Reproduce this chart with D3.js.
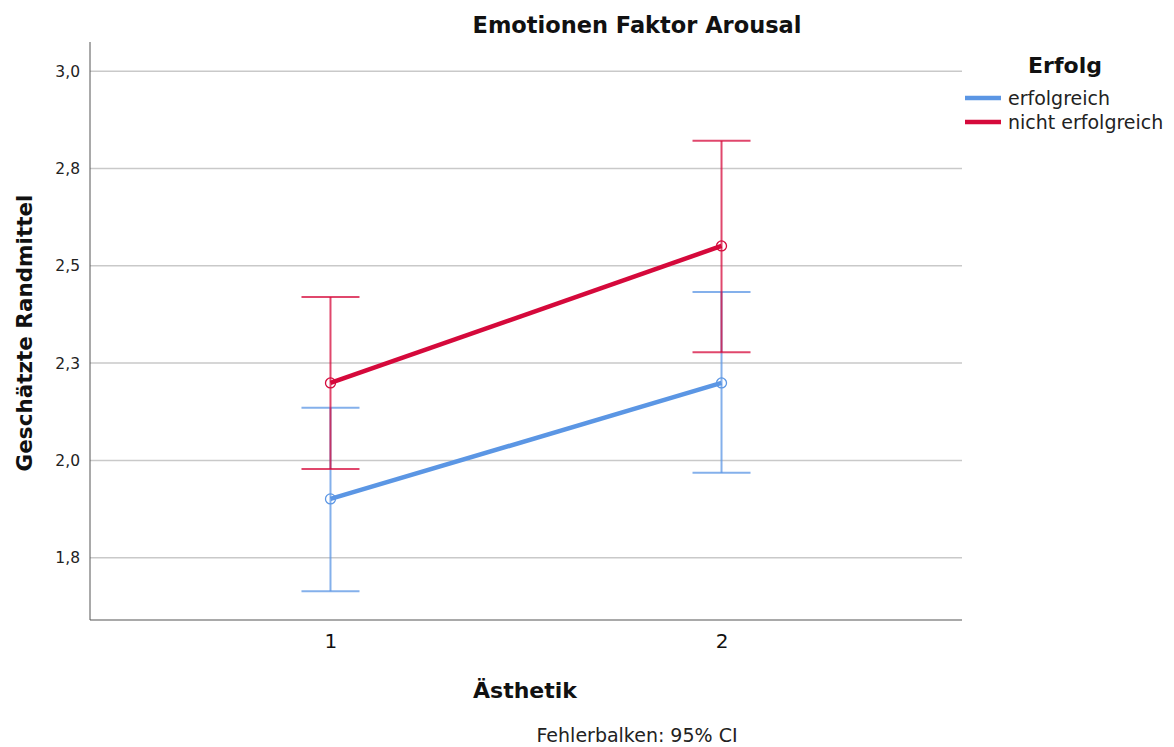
<!DOCTYPE html>
<html>
<head>
<meta charset="utf-8">
<script src="https://cdn.jsdelivr.net/npm/d3@7"></script>
<style>
  html, body { margin: 0; padding: 0; background: #fff; }
  svg { display: block; font-family: "DejaVu Sans", sans-serif; }
</style>
</head>
<body>
<svg id="chart" width="1174" height="747"></svg>
<script>
// Ästhetik levels on the x axis
const levels = ["1", "2"];

// Groups of the factor "Erfolg"
const groups = ["erfolgreich", "nicht erfolgreich"];
const groupColors = ["#5b96e4", "#d5093b"];

// Estimated marginal means per group and level
const meanErfolgreich = [1.901, 2.199];
const meanNichtErfolgreich = [2.199, 2.551];

// 95% confidence intervals (lower, upper)
const ciLowErfolgreich = [1.664, 1.968];
const ciHighErfolgreich = [2.135, 2.433];
const ciLowNichtErfolgreich = [1.978, 2.278];
const ciHighNichtErfolgreich = [2.420, 2.821];

// Y axis ticks and their displayed labels
const yTickValues = [1.75, 2.0, 2.25, 2.5, 2.75, 3.0];
const yTickLabels = ["1,8", "2,0", "2,3", "2,5", "2,8", "3,0"];

const series = [
  { name: groups[0], color: groupColors[0], mean: meanErfolgreich, lo: ciLowErfolgreich, hi: ciHighErfolgreich },
  { name: groups[1], color: groupColors[1], mean: meanNichtErfolgreich, lo: ciLowNichtErfolgreich, hi: ciHighNichtErfolgreich }
];

const svg = d3.select("#chart");
const plot = { left: 90, right: 962, top: 42, bottom: 620 };

const x = d3.scalePoint().domain(levels).range([plot.left, plot.right]).padding(0.615);
const y = d3.scaleLinear().domain([1.59, 3.075]).range([plot.bottom, plot.top]);

// Horizontal gridlines
svg.append("g")
  .selectAll("line")
  .data(yTickValues)
  .join("line")
  .attr("x1", plot.left).attr("x2", plot.right)
  .attr("y1", d => y(d)).attr("y2", d => y(d))
  .attr("stroke", "#c9c9c9").attr("stroke-width", 1.5);

// Y axis
const yAxis = svg.append("g")
  .attr("transform", `translate(${plot.left},0)`)
  .call(d3.axisLeft(y).tickValues(yTickValues)
    .tickFormat((d, i) => yTickLabels[i]).tickSize(0).tickPadding(10));
yAxis.select(".domain").remove();
yAxis.selectAll("text").attr("font-size", 15.5).attr("fill", "#222")
  .attr("font-family", "DejaVu Sans, sans-serif");

svg.append("line")
  .attr("x1", plot.left).attr("x2", plot.left)
  .attr("y1", plot.top).attr("y2", plot.bottom)
  .attr("stroke", "#555").attr("stroke-width", 1);

// X axis
const xAxis = svg.append("g")
  .attr("transform", `translate(0,${plot.bottom})`)
  .call(d3.axisBottom(x).tickSize(0).tickPadding(14));
xAxis.select(".domain").remove();
xAxis.selectAll("text").attr("font-size", 20).attr("fill", "#111")
  .attr("font-family", "DejaVu Sans, sans-serif");

svg.append("line")
  .attr("x1", plot.left).attr("x2", plot.right)
  .attr("y1", plot.bottom).attr("y2", plot.bottom)
  .attr("stroke", "#555").attr("stroke-width", 1.2);

// Error bars
const capHalf = 29;
series.forEach(s => {
  const g = svg.append("g").attr("stroke", s.color).attr("stroke-opacity", 0.75).attr("stroke-width", 2);
  levels.forEach((lv, i) => {
    const cx = x(lv);
    g.append("line").attr("x1", cx).attr("x2", cx).attr("y1", y(s.lo[i])).attr("y2", y(s.hi[i]));
    g.append("line").attr("x1", cx - capHalf).attr("x2", cx + capHalf).attr("y1", y(s.lo[i])).attr("y2", y(s.lo[i]));
    g.append("line").attr("x1", cx - capHalf).attr("x2", cx + capHalf).attr("y1", y(s.hi[i])).attr("y2", y(s.hi[i]));
  });
});

// Mean lines and markers
const line = d3.line().x((d, i) => x(levels[i])).y(d => y(d));
series.forEach(s => {
  svg.append("path")
    .attr("d", line(s.mean))
    .attr("fill", "none").attr("stroke", s.color).attr("stroke-width", 4.5);
  svg.append("g").selectAll("circle")
    .data(s.mean)
    .join("circle")
    .attr("cx", (d, i) => x(levels[i])).attr("cy", d => y(d))
    .attr("r", 5)
    .attr("fill", "none").attr("stroke", s.color).attr("stroke-width", 1.3);
});

// Titles
svg.append("text").attr("x", 637).attr("y", 33).attr("text-anchor", "middle")
  .attr("font-size", 22.5).attr("font-weight", "bold").attr("fill", "#111")
  .text("Emotionen Faktor Arousal");

svg.append("text")
  .attr("transform", `translate(32,${333}) rotate(-90)`)
  .attr("text-anchor", "middle")
  .attr("font-size", 21.5).attr("font-weight", "bold").attr("fill", "#111")
  .text("Geschätzte Randmittel");

svg.append("text").attr("x", 525).attr("y", 698).attr("text-anchor", "middle")
  .attr("font-size", 22).attr("font-weight", "bold").attr("fill", "#111")
  .text("Ästhetik");

svg.append("text").attr("x", 637).attr("y", 742).attr("text-anchor", "middle")
  .attr("font-size", 19).attr("fill", "#222")
  .text("Fehlerbalken: 95% CI");

// Legend
const legend = svg.append("g");
legend.append("text").attr("x", 1065).attr("y", 73).attr("text-anchor", "middle")
  .attr("font-size", 22).attr("font-weight", "bold").attr("fill", "#111")
  .text("Erfolg");
series.forEach((s, i) => {
  const ly = 98 + i * 24;
  legend.append("line").attr("x1", 965).attr("x2", 1001).attr("y1", ly).attr("y2", ly)
    .attr("stroke", s.color).attr("stroke-width", 4.5);
  legend.append("text").attr("x", 1008).attr("y", ly + 7)
    .attr("font-size", 19).attr("fill", "#222").text(s.name);
});
</script>
</body>
</html>
